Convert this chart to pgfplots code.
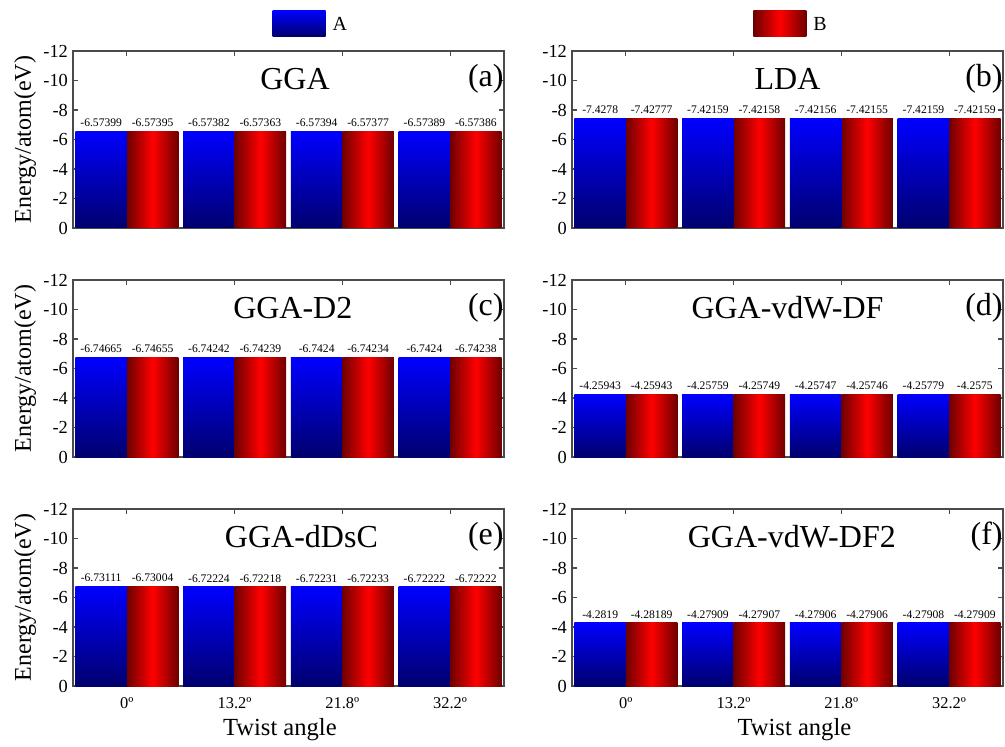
\documentclass[border=0pt]{standalone}
\usepackage{fontspec}
\setmainfont{Liberation Serif}
\usepackage{pgfplots}
\pgfplotsset{compat=1.18}

\definecolor{bluetop}{RGB}{0,0,255}
\definecolor{bluebot}{RGB}{0,0,110}
\definecolor{redmid}{RGB}{255,0,0}
\definecolor{rededge}{RGB}{110,0,0}
\definecolor{axgray}{RGB}{75,75,75}

\tikzset{ttl/.style={font=\fontsize{16}{18}\selectfont}}

\pgfplotsset{
 panel/.style={
  scale only axis, width=215.5pt, height=88.5pt,
  anchor=north west,
  ybar=0pt, bar width=0.477,
  xmin=-0.5, xmax=3.5, ymin=-12, ymax=0, y dir=reverse,
  xtick={0,1,2,3}, xticklabels={}, ytick={-12,-10,-8,-6,-4,-2,0},
  tick align=inside, major tick length=2.5pt,
  axis line style={axgray, line width=0.6pt},
  every tick/.style={axgray, line width=0.6pt},
  /pgf/number format/assume math mode=true,
  yticklabel style={font=\fontsize{9.2}{10}\selectfont, xshift=1pt},
  xticklabel style={font=\fontsize{8.2}{10}\selectfont, yshift=-2.5pt},
  point meta=explicit symbolic,
  nodes near coords,
  every node near coord/.append style={font=\fontsize{5.8}{6}\selectfont, anchor=south, text=black, yshift=-1.2pt},
  clip=false,
 },
 withlabels/.style={xticklabels={0º,13.2º,21.8º,32.2º}},
 leftp/.style={ylabel={Energy/atom(eV)}, ylabel style={at={(axis description cs:-0.111,0.5)}, anchor=center, font=\fontsize{12}{14}\selectfont}},
 twist/.style={xlabel={Twist angle}, xlabel style={at={(axis description cs:#1,-0.245)}, anchor=center, font=\fontsize{12.3}{14}\selectfont}},
 sA/.style={draw=none, shade, top color=bluetop, bottom color=bluebot, bar shift=-0.2385,
   legend image code/.code={\shade[top color=bluetop,bottom color=bluebot] (0pt,-5.5pt) rectangle (26.5pt,7.5pt);}},
 sB/.style={draw=none, shade, left color=rededge, right color=rededge, middle color=redmid, bar shift=0.2385,
   legend image code/.code={\shade[left color=rededge, right color=rededge, middle color=redmid] (0pt,-5.5pt) rectangle (26.5pt,7.5pt);}},
 leg/.style={legend style={at={(#1,1)}, anchor=south west, yshift=5pt, draw=none, fill=none, inner sep=0pt,
   font=\fontsize{10}{12}\selectfont, nodes={inner sep=3.5pt}}},
}

\begin{document}
\begin{tikzpicture}
\useasboundingbox (0,0) rectangle (502.5pt,-373.5pt);

% (a) GGA
\begin{axis}[panel, leftp, leg=0.462, at={(36.5pt,-25.5pt)}]
\addplot[sA] coordinates {(0,-6.57399) [-6.57399]};
\addlegendentry{A}
\addplot[sA, forget plot] coordinates {(1,-6.57382) [-6.57382]};
\addplot[sA, forget plot] coordinates {(2,-6.57394) [-6.57394]};
\addplot[sA, forget plot] coordinates {(3,-6.57389) [-6.57389]};
\addplot[sB, forget plot] coordinates {(0,-6.57395) [-6.57395]};
\addplot[sB, forget plot] coordinates {(1,-6.57363) [-6.57363]};
\addplot[sB, forget plot] coordinates {(2,-6.57377) [-6.57377]};
\addplot[sB, forget plot] coordinates {(3,-6.57386) [-6.57386]};
\node[ttl] at (axis description cs:0.515,0.842) {GGA};
\node[ttl, anchor=east, inner sep=0pt] at (axis description cs:1.0,0.842) {(a)};
\end{axis}

% (b) LDA
\begin{axis}[panel, leg=0.42, at={(286pt,-25.5pt)}]
\addplot[sB] coordinates {(0,-7.42777) [-7.42777]};
\addlegendentry{B}
\addplot[sB, forget plot] coordinates {(1,-7.42158) [-7.42158]};
\addplot[sB, forget plot] coordinates {(2,-7.42155) [-7.42155]};
\addplot[sB, forget plot] coordinates {(3,-7.42159) [-7.42159]};
\addplot[sA, forget plot] coordinates {(0,-7.4278) [-7.4278]};
\addplot[sA, forget plot] coordinates {(1,-7.42159) [-7.42159]};
\addplot[sA, forget plot] coordinates {(2,-7.42156) [-7.42156]};
\addplot[sA, forget plot] coordinates {(3,-7.42159) [-7.42159]};
\node[ttl] at (axis description cs:0.50,0.842) {LDA};
\node[ttl, anchor=east, inner sep=0pt] at (axis description cs:1.0,0.842) {(b)};
\end{axis}

% (c) GGA-D2
\begin{axis}[panel, leftp, at={(36.5pt,-140pt)}]
\addplot[sA] coordinates {(0,-6.74665) [-6.74665]};
\addplot[sA] coordinates {(1,-6.74242) [-6.74242]};
\addplot[sA] coordinates {(2,-6.7424) [-6.7424]};
\addplot[sA] coordinates {(3,-6.7424) [-6.7424]};
\addplot[sB] coordinates {(0,-6.74655) [-6.74655]};
\addplot[sB] coordinates {(1,-6.74239) [-6.74239]};
\addplot[sB] coordinates {(2,-6.74234) [-6.74234]};
\addplot[sB] coordinates {(3,-6.74238) [-6.74238]};
\node[ttl] at (axis description cs:0.51,0.842) {GGA-D2};
\node[ttl, anchor=east, inner sep=0pt] at (axis description cs:1.0,0.842) {(c)};
\end{axis}

% (d) GGA-vdW-DF
\begin{axis}[panel, at={(286pt,-140pt)}]
\addplot[sA] coordinates {(0,-4.25943) [-4.25943]};
\addplot[sA] coordinates {(1,-4.25759) [-4.25759]};
\addplot[sA] coordinates {(2,-4.25747) [-4.25747]};
\addplot[sA] coordinates {(3,-4.25779) [-4.25779]};
\addplot[sB] coordinates {(0,-4.25943) [-4.25943]};
\addplot[sB] coordinates {(1,-4.25749) [-4.25749]};
\addplot[sB] coordinates {(2,-4.25746) [-4.25746]};
\addplot[sB] coordinates {(3,-4.2575) [-4.2575]};
\node[ttl] at (axis description cs:0.50,0.842) {GGA-vdW-DF};
\node[ttl, anchor=east, inner sep=0pt] at (axis description cs:1.0,0.842) {(d)};
\end{axis}

% (e) GGA-dDsC
\begin{axis}[panel, leftp, withlabels, twist=0.48, at={(36.5pt,-254.5pt)}]
\addplot[sA] coordinates {(0,-6.73111) [-6.73111]};
\addplot[sA] coordinates {(1,-6.72224) [-6.72224]};
\addplot[sA] coordinates {(2,-6.72231) [-6.72231]};
\addplot[sA] coordinates {(3,-6.72222) [-6.72222]};
\addplot[sB] coordinates {(0,-6.73004) [-6.73004]};
\addplot[sB] coordinates {(1,-6.72218) [-6.72218]};
\addplot[sB] coordinates {(2,-6.72233) [-6.72233]};
\addplot[sB] coordinates {(3,-6.72222) [-6.72222]};
\node[ttl] at (axis description cs:0.53,0.842) {GGA-dDsC};
\node[ttl, anchor=east, inner sep=0pt] at (axis description cs:1.0,0.842) {(e)};
\end{axis}

% (f) GGA-vdW-DF2
\begin{axis}[panel, withlabels, twist=0.516, at={(286pt,-254.5pt)}]
\addplot[sA] coordinates {(0,-4.2819) [-4.2819]};
\addplot[sA] coordinates {(1,-4.27909) [-4.27909]};
\addplot[sA] coordinates {(2,-4.27906) [-4.27906]};
\addplot[sA] coordinates {(3,-4.27908) [-4.27908]};
\addplot[sB] coordinates {(0,-4.28189) [-4.28189]};
\addplot[sB] coordinates {(1,-4.27907) [-4.27907]};
\addplot[sB] coordinates {(2,-4.27906) [-4.27906]};
\addplot[sB] coordinates {(3,-4.27909) [-4.27909]};
\node[ttl] at (axis description cs:0.51,0.842) {GGA-vdW-DF2};
\node[ttl, anchor=east, inner sep=0pt] at (axis description cs:1.0,0.842) {(f)};
\end{axis}
\end{tikzpicture}
\end{document}
